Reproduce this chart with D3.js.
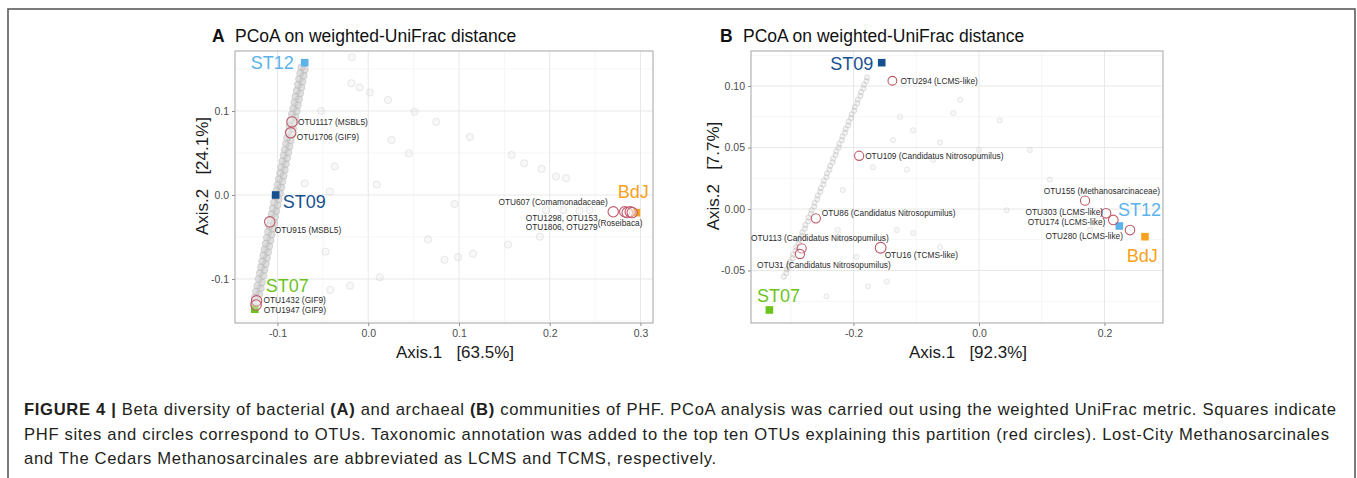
<!DOCTYPE html>
<html>
<head>
<meta charset="utf-8">
<script src="https://cdn.jsdelivr.net/npm/d3@7/dist/d3.min.js"></script>
<style>
  body { margin: 0; background: #fff; }
  text { font-family: "Liberation Sans", Arial, Helvetica, sans-serif; }
</style>
</head>
<body>
<div id="chart-area"></div>
<script>
// ---------------- Data ----------------

// Panel A - bacteria
var sitesA = ["ST12", "ST09", "ST07", "BdJ"];
var sitesA_x = [-0.070, -0.102, -0.125, 0.2955];
var sitesA_y = [0.1575, 0.000, -0.136, -0.021];

var otuA_x = [-0.084, -0.0854, -0.1085, -0.123, -0.1235, 0.270, 0.2827, 0.2854, 0.2887, 0.2909];
var otuA_y = [0.087, 0.074, -0.032, -0.126, -0.131, -0.020, -0.020, -0.021, -0.020, -0.021];
var otuA_labels = ["OTU1117 (MSBL5)", "OTU1706 (GIF9)", "OTU915 (MSBL5)", "OTU1432 (GIF9)",
    "OTU1947 (GIF9)", "OTU607 (Comamonadaceae)", "OTU1298, OTU153", "(Roseibaca)",
    "OTU1806, OTU279", ""];

// grey OTU circles lying along the ST07 - ST12 axis
var bandA = [[-0.1262,-0.130],[-0.1220,-0.127],[-0.1248,-0.122],[-0.1200,-0.118],[-0.1236,-0.115],
    [-0.1184,-0.111],[-0.1222,-0.108],[-0.1170,-0.104],[-0.1206,-0.100],[-0.1156,-0.096],
    [-0.1194,-0.093],[-0.1143,-0.089],[-0.1181,-0.086],[-0.1130,-0.082],[-0.1168,-0.079],
    [-0.1117,-0.075],[-0.1155,-0.072],[-0.1104,-0.068],[-0.1142,-0.065],[-0.1091,-0.061],
    [-0.1129,-0.058],[-0.1078,-0.054],[-0.1116,-0.051],[-0.1065,-0.047],[-0.1103,-0.044],
    [-0.1052,-0.040],[-0.1090,-0.037],[-0.1039,-0.033],[-0.1077,-0.030],[-0.1026,-0.026],
    [-0.1064,-0.023],[-0.1013,-0.019],[-0.1051,-0.016],[-0.1000,-0.012],[-0.1038,-0.009],
    [-0.0987,-0.005],[-0.1025,-0.002],[-0.0972,0.002],[-0.1010,0.005],[-0.0959,0.009],
    [-0.0997,0.012],[-0.0946,0.016],[-0.0984,0.019],[-0.0933,0.023],[-0.0971,0.026],
    [-0.0920,0.030],[-0.0958,0.033],[-0.0907,0.037],[-0.0945,0.040],[-0.0894,0.044],
    [-0.0932,0.047],[-0.0881,0.051],[-0.0919,0.054],[-0.0868,0.058],[-0.0906,0.061],
    [-0.0855,0.065],[-0.0893,0.068],[-0.0842,0.072],[-0.0880,0.075],[-0.0829,0.079],
    [-0.0866,0.082],[-0.0815,0.086],[-0.0853,0.089],[-0.0802,0.093],[-0.0840,0.096],
    [-0.0789,0.100],[-0.0827,0.103],[-0.0776,0.107],[-0.0814,0.110],[-0.0763,0.114],
    [-0.0801,0.117],[-0.0750,0.121],[-0.0788,0.124],[-0.0737,0.128],[-0.0775,0.131],
    [-0.0725,0.135],[-0.0762,0.138],[-0.0712,0.142],[-0.0749,0.145],[-0.0700,0.149],
    [-0.0736,0.152]];

// scattered grey OTU circles
var scatterA = [[-0.0185,0.133],[-0.0094,0.128],[0.0017,0.122],[0.0218,0.113],[-0.052,0.100],
    [0.051,0.099],[0.075,0.087],[0.112,0.069],[0.0256,0.0655],[0.0446,0.0496],
    [0.158,0.0476],[0.172,0.0377],[0.191,0.031],[0.207,0.022],[0.218,0.020],
    [-0.037,0.034],[0.0094,0.0125],[-0.070,0.0137],[-0.0424,0.004],[0.095,-0.0107],
    [0.066,-0.053],[-0.047,-0.0675],[0.084,-0.077],[0.099,-0.074],[0.1155,-0.070],
    [0.154,-0.059],[0.0127,-0.098],[-0.020,-0.108],[-0.042,-0.113],[0.189,-0.0496],
    [0.196,-0.018],[0.215,-0.018],[0.233,-0.019],[0.244,-0.018],[-0.018,0.164]];

var ticksA_x = [-0.1, 0.0, 0.1, 0.2, 0.3];
var ticksA_y = [-0.1, 0.0, 0.1];

// Panel B - archaea
var sitesB = ["ST12", "ST09", "ST07", "BdJ"];
var sitesB_x = [0.2236, -0.155, -0.334, 0.2645];
var sitesB_y = [-0.0138, 0.119, -0.0821, -0.0225];

var otuB_x = [-0.138, -0.191, -0.260, -0.2826, -0.2853, -0.1567, 0.169, 0.2024, 0.214, 0.2406];
var otuB_y = [0.1043, 0.0433, -0.0076, -0.032, -0.0366, -0.0315, 0.0068, -0.0035, -0.0089, -0.0171];
var otuB_labels = ["OTU294 (LCMS-like)", "OTU109 (Candidatus Nitrosopumilus)",
    "OTU86 (Candidatus Nitrosopumilus)", "OTU113 (Candidatus Nitrosopumilus)",
    "OTU31 (Candidatus Nitrosopumilus)", "OTU16 (TCMS-like)", "OTU155 (Methanosarcinaceae)",
    "OTU303 (LCMS-like)", "OTU174 (LCMS-like)", "OTU280 (LCMS-like)"];

var bandB = [[-0.3110,-0.055],[-0.3070,-0.052],[-0.3060,-0.049],[-0.3020,-0.046],[-0.3012,-0.043],
    [-0.2972,-0.040],[-0.2963,-0.037],[-0.2922,-0.034],[-0.2913,-0.031],[-0.2873,-0.028],
    [-0.2864,-0.025],[-0.2824,-0.022],[-0.2815,-0.019],[-0.2775,-0.016],[-0.2766,-0.013],
    [-0.2726,-0.010],[-0.2717,-0.007],[-0.2677,-0.004],[-0.2667,-0.001],[-0.2628,0.002],
    [-0.2618,0.005],[-0.2578,0.008],[-0.2569,0.011],[-0.2529,0.014],[-0.2520,0.017],
    [-0.2480,0.020],[-0.2471,0.023],[-0.2431,0.026],[-0.2422,0.029],[-0.2382,0.032],
    [-0.2372,0.035],[-0.2333,0.038],[-0.2323,0.041],[-0.2284,0.044],[-0.2274,0.047],
    [-0.2235,0.050],[-0.2225,0.053],[-0.2186,0.056],[-0.2176,0.059],[-0.2136,0.062],
    [-0.2126,0.065],[-0.2087,0.068],[-0.2077,0.071],[-0.2038,0.074],[-0.2028,0.077],
    [-0.1989,0.080],[-0.1979,0.083],[-0.1940,0.086],[-0.1930,0.089],[-0.1890,0.092],
    [-0.1880,0.095],[-0.1841,0.098],[-0.1831,0.101],[-0.1792,0.104],[-0.1782,0.107]];

var scatterB = [[-0.126,0.075],[-0.105,0.064],[-0.062,0.054],[-0.041,0.078],[-0.137,0.056],
    [-0.217,0.0155],[-0.169,0.034],[-0.115,0.032],[-0.073,0.040],[-0.169,-0.003],
    [-0.131,-0.017],[-0.105,-0.0195],[-0.243,-0.071],[-0.195,-0.039],[-0.177,-0.063],
    [-0.147,-0.059],[-0.062,-0.031],[-0.225,-0.017],[-0.211,-0.025],[0.044,-0.001],
    [0.113,0.024],[0.000,0.048],[0.033,0.072],[-0.030,0.089],[0.081,0.048],
    [0.153,-0.005],[0.177,-0.017]];

var ticksB_x = [-0.2, 0.0, 0.2];
var ticksB_y = [-0.05, 0.00, 0.05, 0.10];

// ---------------- Styles / layout ----------------
var siteColor = { ST12: "#5cb3ea", ST09: "#17508f", ST07: "#6cc31c", BdJ: "#f6a21c" };
var otuStroke = "#bf5a6a";

var svg = d3.select("#chart-area")
    .append("svg")
        .attr("width", 1357)
        .attr("height", 478);

// outer figure frame
svg.append("rect")
    .attr("x", 8)
    .attr("y", 9)
    .attr("width", 1347)
    .attr("height", 520)
    .attr("fill", "none")
    .attr("stroke", "#5a5a5a")
    .attr("stroke-width", 1.6);

function drawPanel(p) {
    var x = d3.scaleLinear().domain(p.xDomain).range([p.left, p.right]);
    var y = d3.scaleLinear().domain(p.yDomain).range([p.bottom, p.top]);
    var g = svg.append("g");

    // grid lines (minor then major)
    g.selectAll(".vminor").data(p.xMinor).enter().append("line")
        .attr("x1", function(d) { return x(d); }).attr("x2", function(d) { return x(d); })
        .attr("y1", p.top).attr("y2", p.bottom)
        .attr("stroke", "#f3f3f3").attr("stroke-width", 0.8);
    g.selectAll(".hminor").data(p.yMinor).enter().append("line")
        .attr("y1", function(d) { return y(d); }).attr("y2", function(d) { return y(d); })
        .attr("x1", p.left).attr("x2", p.right)
        .attr("stroke", "#f3f3f3").attr("stroke-width", 0.8);
    g.selectAll(".vmajor").data(p.xTicks).enter().append("line")
        .attr("x1", function(d) { return x(d); }).attr("x2", function(d) { return x(d); })
        .attr("y1", p.top).attr("y2", p.bottom)
        .attr("stroke", "#e8e8e8").attr("stroke-width", 1);
    g.selectAll(".hmajor").data(p.yTicks).enter().append("line")
        .attr("y1", function(d) { return y(d); }).attr("y2", function(d) { return y(d); })
        .attr("x1", p.left).attr("x2", p.right)
        .attr("stroke", "#e8e8e8").attr("stroke-width", 1);

    // axes
    var xAxis = g.append("g")
        .attr("transform", "translate(0," + p.bottom + ")")
        .call(d3.axisBottom(x).tickValues(p.xTicks).tickSize(3).tickPadding(4)
            .tickFormat(function(d) { return d.toFixed(p.xDigits); }));
    var yAxis = g.append("g")
        .attr("transform", "translate(" + p.left + ",0)")
        .call(d3.axisLeft(y).tickValues(p.yTicks).tickSize(3).tickPadding(3)
            .tickFormat(function(d) { return d.toFixed(p.yDigits); }));
    [xAxis, yAxis].forEach(function(a) {
        a.select(".domain").remove();
        a.selectAll("line").attr("stroke", "#8a8a8a");
        a.selectAll("text")
            .attr("fill", "#4d4d4d")
            .style("font-size", "10.5px")
            .style("font-family", "'Liberation Sans', Arial, sans-serif");
    });

    // panel border
    g.append("rect")
        .attr("x", p.left).attr("y", p.top)
        .attr("width", p.right - p.left).attr("height", p.bottom - p.top)
        .attr("fill", "none").attr("stroke", "#a3a3a3").attr("stroke-width", 1);

    var plot = g.append("g");

    // scattered grey OTU circles (faint)
    plot.selectAll(".sc").data(p.scatter).enter().append("circle")
        .attr("cx", function(d) { return x(d[0]); })
        .attr("cy", function(d) { return y(d[1]); })
        .attr("r", p.bgR)
        .attr("fill", "#d0d0d0").attr("fill-opacity", 0.15)
        .attr("stroke", "#bdbdbd").attr("stroke-opacity", 0.4).attr("stroke-width", 0.8);

    // dense grey OTU circles along the site axis
    plot.selectAll(".band").data(p.band).enter().append("circle")
        .attr("cx", function(d) { return x(d[0]); })
        .attr("cy", function(d) { return y(d[1]); })
        .attr("r", p.bgR)
        .attr("fill", "#c4c4c4").attr("fill-opacity", p.bandFill)
        .attr("stroke", "#b3b3b3").attr("stroke-opacity", 0.5).attr("stroke-width", 0.8);

    // site squares
    plot.selectAll(".site").data(p.sites).enter().append("rect")
        .attr("x", function(d, i) { return x(p.sitesX[i]) - 3.8; })
        .attr("y", function(d, i) { return y(p.sitesY[i]) - 3.8; })
        .attr("width", 7.6).attr("height", 7.6)
        .attr("fill", function(d) { return siteColor[d]; });

    // top OTUs (red circles)
    plot.selectAll(".otu").data(p.otuX).enter().append("circle")
        .attr("cx", function(d) { return x(d); })
        .attr("cy", function(d, i) { return y(p.otuY[i]); })
        .attr("r", function(d, i) { return p.otuR[i]; })
        .attr("fill", "#ffffff").attr("fill-opacity", 0.35)
        .attr("stroke", otuStroke).attr("stroke-width", 1.1);

    // OTU labels
    plot.selectAll(".otulab").data(p.otuLabels).enter().append("text")
        .attr("x", function(d, i) { return x(p.otuX[i]) + p.otuLabelPos[i][0]; })
        .attr("y", function(d, i) { return y(p.otuY[i]) + p.otuLabelPos[i][1]; })
        .attr("text-anchor", function(d, i) { return p.otuLabelPos[i][2]; })
        .attr("font-size", "8.3px")
        .attr("fill", "#2b2b2b")
        .text(function(d) { return d; });

    // site labels
    plot.selectAll(".sitelab").data(p.sites).enter().append("text")
        .attr("x", function(d, i) { return x(p.sitesX[i]) + p.siteLabelPos[i][0]; })
        .attr("y", function(d, i) { return y(p.sitesY[i]) + p.siteLabelPos[i][1]; })
        .attr("text-anchor", function(d, i) { return p.siteLabelPos[i][2]; })
        .attr("font-size", "18px")
        .attr("fill", function(d) { return siteColor[d]; })
        .text(function(d) { return d; });

    // titles
    g.append("text")
        .attr("x", p.titleX - 23).attr("y", 41.7)
        .attr("font-size", "17.5px").attr("font-weight", "bold").attr("fill", "#111")
        .text(p.letter);
    g.append("text")
        .attr("x", p.titleX).attr("y", 41.7)
        .attr("font-size", "17.5px").attr("fill", "#111")
        .text("PCoA on weighted-UniFrac distance");

    // axis titles
    g.append("text")
        .attr("x", (p.left + p.right) / 2 + 11).attr("y", 358)
        .attr("text-anchor", "middle").attr("font-size", "17px").attr("fill", "#1a1a1a")
        .style("white-space", "pre")
        .text(p.xTitle);
    g.append("text")
        .attr("transform", "translate(" + p.yTitleX + "," + ((p.top + p.bottom) / 2 - 11) + ") rotate(-90)")
        .attr("text-anchor", "middle").attr("font-size", "17px").attr("fill", "#1a1a1a")
        .style("white-space", "pre")
        .text(p.yTitle);
}

// Panel A
drawPanel({
    left: 235, right: 653, top: 51, bottom: 323,
    xDomain: [-0.1468, 0.3138], yDomain: [-0.1524, 0.1714],
    xTicks: ticksA_x, yTicks: ticksA_y,
    xMinor: [-0.05, 0.05, 0.15, 0.25], yMinor: [-0.15, -0.05, 0.05, 0.15],
    xDigits: 1, yDigits: 1,
    band: bandA, scatter: scatterA, bgR: 3.6, bandFill: 0.55,
    sites: sitesA, sitesX: sitesA_x, sitesY: sitesA_y,
    siteLabelPos: [[-11, 6.3, "end"], [7, 13.3, "start"], [11, -17.6, "start"], [-18.7, -14.4, "start"]],
    otuX: otuA_x, otuY: otuA_y, otuLabels: otuA_labels,
    otuR: [5.2, 5.2, 5.2, 5.2, 5.2, 5.2, 5.2, 5.2, 5.2, 5.2],
    otuLabelPos: [[6, 3, "start"], [6, 7, "start"], [5, 11, "start"], [7, 2, "start"],
        [7.6, 7.7, "start"], [-5.5, -7, "end"], [-99, 9.5, "start"], [-29.5, 13.5, "start"],
        [-104.5, 18, "start"], [0, 0, "start"]],
    letter: "A", titleX: 235,
    xTitle: "Axis.1   [63.5%]", yTitle: "Axis.2   [24.1%]", yTitleX: 208
});

// Panel B
drawPanel({
    left: 751, right: 1163, top: 51, bottom: 323,
    xDomain: [-0.3633, 0.2932], yDomain: [-0.0927, 0.1285],
    xTicks: ticksB_x, yTicks: ticksB_y,
    xMinor: [-0.3, -0.1, 0.1], yMinor: [-0.075, -0.025, 0.025, 0.075, 0.125],
    xDigits: 1, yDigits: 2,
    band: bandB, scatter: scatterB, bgR: 2.6, bandFill: 0.2,
    sites: sitesB, sitesX: sitesB_x, sitesY: sitesB_y,
    siteLabelPos: [[-1.3, -10, "start"], [-8.4, 7.3, "end"], [-12.3, -8.3, "start"], [-18.3, 25, "start"]],
    otuX: otuB_x, otuY: otuB_y, otuLabels: otuB_labels,
    otuR: [4.4, 4.6, 4.6, 4.6, 4.6, 5.4, 4.6, 4.8, 4.8, 4.8],
    otuLabelPos: [[8, 3, "start"], [6, 3, "start"], [6, -2, "start"], [-50.7, -7.3, "start"],
        [-43, 14, "start"], [4, 10, "start"], [75, -6.7, "end"], [-3, 2, "end"],
        [-8, 4.7, "end"], [-7, 9, "end"]],
    letter: "B", titleX: 743,
    xTitle: "Axis.1   [92.3%]", yTitle: "Axis.2   [7.7%]", yTitleX: 719
});

// ---------------- Caption ----------------
var captionLines = [
    [["FIGURE 4 | ", true], ["Beta diversity of bacterial ", false], ["(A)", true], [" and archaeal ", false],
     ["(B)", true], [" communities of PHF. PCoA analysis was carried out using the weighted UniFrac metric. Squares indicate", false]],
    [["PHF sites and circles correspond to OTUs. Taxonomic annotation was added to the top ten OTUs explaining this partition (red circles). Lost-City Methanosarcinales", false]],
    [["and The Cedars Methanosarcinales are abbreviated as LCMS and TCMS, respectively.", false]]
];
var captionWidths = [1312, 1305, null];

var spacing = 0;
captionLines.forEach(function(line, i) {
    var t = svg.append("text")
        .attr("x", 24)
        .attr("y", 415 + i * 24.5)
        .attr("font-size", "16.6px")
        .attr("fill", "#231f20")
        .style("white-space", "pre");
    line.forEach(function(seg) {
        t.append("tspan")
            .attr("font-weight", seg[1] ? "bold" : "normal")
            .text(seg[0]);
    });
    var n = line.map(function(s) { return s[0]; }).join("").length;
    if (captionWidths[i]) {
        var w = t.node().getComputedTextLength();
        spacing = (captionWidths[i] - w) / (n - 1);
    }
    t.attr("letter-spacing", spacing);
});
</script>
</body>
</html>
